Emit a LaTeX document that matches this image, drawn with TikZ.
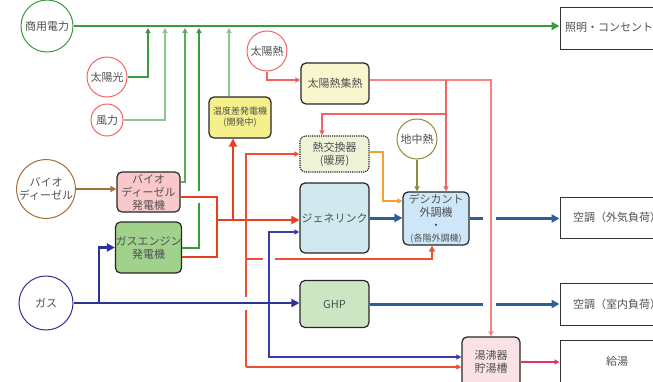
\documentclass[tikz,border=0pt]{standalone}
\usepackage{fontspec}
\setmainfont{Noto Sans CJK JP}
\usetikzlibrary{arrows.meta}
\definecolor{txtgray}{RGB}{80,80,80}
\definecolor{cgrn}{RGB}{60,155,60}
\definecolor{mgrn}{RGB}{90,175,90}
\definecolor{lgrn}{RGB}{140,200,140}
\definecolor{cred}{RGB}{240,100,100}
\definecolor{sal}{RGB}{240,100,100}
\definecolor{pinkl}{RGB}{245,130,130}
\definecolor{ored}{RGB}{232,64,30}
\definecolor{othin}{RGB}{238,80,50}
\definecolor{orng}{RGB}{245,160,50}
\definecolor{olive}{RGB}{140,140,60}
\definecolor{brwn}{RGB}{165,110,55}
\definecolor{gblue}{RGB}{45,50,150}
\definecolor{bthin}{RGB}{60,60,170}
\definecolor{steel}{RGB}{45,95,150}
\definecolor{mag}{RGB}{225,50,100}
\definecolor{fbdg}{RGB}{248,200,202}
\definecolor{fgeg}{RGB}{160,210,140}
\definecolor{ftdg}{RGB}{245,240,140}
\definecolor{fshc}{RGB}{248,246,205}
\definecolor{fhx}{RGB}{238,242,215}
\definecolor{fgl}{RGB}{208,232,238}
\definecolor{fdes}{RGB}{205,230,248}
\definecolor{fghp}{RGB}{204,230,196}
\definecolor{ftank}{RGB}{250,225,230}
\tikzset{
  >={Triangle[length=5pt,width=5pt]},
  arS/.style={->},
  arL/.style={-{Triangle[length=8pt,width=8pt]}},
  arM/.style={-{Triangle[length=6pt,width=6pt]}},
  txt/.style={text=txtgray, font=\fontsize{11}{13}\selectfont, align=center, inner sep=0pt},
  smalltxt/.style={font=\fontsize{9}{11}\selectfont},
  circ/.style={circle, draw=#1, line width=1pt, fill=white, txt},
  box/.style={rectangle, rounded corners=5pt, draw=black!85, line width=1.2pt, fill=#1, txt},
  outbox/.style={rectangle, draw=black!80, line width=1pt, minimum width=114pt, minimum height=42pt, txt},
  gmain/.style={draw=cgrn, line width=2.6pt},
  g2/.style={draw=cgrn, line width=2pt},
  gm/.style={draw=mgrn, line width=1.8pt},
  gl/.style={draw=lgrn, line width=1.2pt},
  rthick/.style={draw=ored, line width=2.8pt},
  rthin/.style={draw=othin, line width=1.5pt},
  sall/.style={draw=sal, line width=1.3pt},
  pinkline/.style={draw=pinkl, line width=1.4pt},
  orl/.style={draw=orng, line width=1.2pt},
  olv/.style={draw=olive, line width=1.2pt},
  brl/.style={draw=brwn, line width=1.8pt},
  gasl/.style={draw=gblue, line width=2.8pt},
  bthl/.style={draw=bthin, line width=1.5pt},
  stl/.style={draw=steel, line width=3pt},
  magl/.style={draw=mag, line width=1.3pt},
  gapw/.style={fill=white, draw=none}
}
\begin{document}
\begin{tikzpicture}[x=1pt,y=-1pt]
\useasboundingbox (0,0) rectangle (653,381);

% circles
\node[circ=cgrn, minimum size=52pt] (grid) at (47,26) {商用電力};
\node[circ=cred, minimum size=40pt] (pv) at (107,77) {太陽光};
\node[circ=cred, minimum size=32pt] (wind) at (107,120) {風力};
\node[circ=cred, minimum size=40pt] (sh) at (267,51) {太陽熱};
\node[circ=olive, minimum size=40pt] (geo) at (417,139) {地中熱};
\node[circ=brwn, minimum size=54pt] (bio) at (46,189) {バイオ\\ディーゼル};
\node[circ=gblue, minimum size=54pt] (gas) at (46,303) {ガス};

% boxes
\node[box=fbdg, minimum width=63pt, minimum height=40pt] (bdg) at (148.5,192) {バイオ\\ディーゼル\\発電機};
\node[box=fgeg, minimum width=63pt, minimum height=51pt] (geg) at (148.5,247.5) {ガスエンジン\\発電機};
\node[box=ftdg, smalltxt, minimum width=62pt, minimum height=41pt] (tdg) at (240,117.5) {温度差発電機\\(開発中)};
\node[box=fshc, minimum width=68pt, minimum height=41pt] (shc) at (335,83.5) {太陽熱集熱};
\node[box=fhx, densely dotted, minimum width=69pt, minimum height=36pt] (hx) at (334.5,154) {熱交換器\\(暖房)};
\node[box=fgl, minimum width=69pt, minimum height=70pt] (genl) at (334.5,218) {ジェネリンク};
\node[box=fdes, minimum width=66pt, minimum height=53pt] (des) at (436,218.5) {デシカント\\外調機\\・\\[-1pt]{\fontsize{9}{10}\selectfont (各階外調機)}};
\node[box=fghp, minimum width=69pt, minimum height=47pt] (ghp) at (334.5,304) {GHP};
\node[box=ftank, minimum width=58pt, minimum height=50pt] (tank) at (491,362) {湯沸器\\貯湯槽};
\node[outbox, align=left, text width=104pt] (light) at (617,28) {照明・コンセント};
\node[outbox, minimum height=41pt] (ac1) at (617,217.5) {空調（外気負荷）};
\node[outbox] (ac2) at (617,304) {空調（室内負荷）};
\node[outbox] (hotw) at (617,361) {給湯};

% bus coordinates
\coordinate (bpv) at (148,28);
\coordinate (bwind) at (165,28);
\coordinate (bbdg) at (185,28);
\coordinate (bgeg) at (199,28);
\coordinate (btdg) at (229,28);

% green electricity
\draw[gmain, arL] (grid.east) -- (grid.east -| light.west);
\draw[g2, arS] (pv.east) -| (bpv);
\draw[gl, arS] (wind.east) -| (bwind);
\draw[gm, arS] ([yshift=10pt]bdg.east) -| (bbdg);
\draw[g2, arS] (geg.east) -| (bgeg);
\draw[gl, arS] ([xshift=-11pt]tdg.north) -- (btdg);

\fill[gapw] (195,191) rectangle (203,203);

% thick red (generator heat)
\coordinate (rj) at (217,220);
\coordinate (rj2) at (233,220);
\draw[rthick] ([yshift=-5pt]bdg.east) -| (rj) |- ([yshift=-9.5pt]geg.east);
\draw[rthick, arL] (rj) -- (rj -| genl.west);
\draw[rthick, arL] (rj2) -- (rj2 |- tdg.south);

% thin red
\coordinate (rv) at (246,367);
\coordinate (rh) at (246,259);
\draw[rthin, arS] (rv) |- (hx.west);
\draw[rthin, arS] (rv) -- (rv -| tank.west);
\draw[rthin, arM] (rh) -| ([xshift=-4pt]des.south);

\fill[gapw] (243,297) rectangle (249,310);
\fill[gapw] (263,256) rectangle (275,262);

% thin blue
\coordinate (bv) at (269,357);
\draw[bthl, <->] ([yshift=-14pt]genl.west) -| (bv) -- (bv -| tank.west);

% gas
\coordinate (g1) at (99,303);
\draw[gasl, arL] (gas.east) -- (gas.east -| ghp.west);
\draw[gasl, arL] (g1) |- (geg.west);

% steel blue (air conditioning)
\draw[stl, arL] (genl.east) -- (genl.east -| des.west);
\draw[stl, arL] (des.east) -- (des.east -| ac1.west);
\draw[stl, arL] (ghp.east) -- (ghp.east -| ac2.west);
\fill[gapw] (483,213) rectangle (496,224);
\fill[gapw] (483,298) rectangle (496,310);

% solar heat
\coordinate (s1) at (446,80);
\coordinate (s2) at (446,114);
\draw[sall, arS] (sh.south) |- ([yshift=3.5pt]shc.west);
\draw[pinkline, arS] ([yshift=3.5pt]shc.east) -| (tank.north);
\draw[sall, arS] (s1) -- ([xshift=10pt]des.north);
\draw[sall, arS] (s2) -| ([xshift=-12.5pt]hx.north);

% others
\coordinate (o1) at (383,201);
\draw[orl, arS] ([yshift=2pt]hx.east) -| (o1) -- (o1 -| des.west);
\draw[olv, arS] (geo.south) -- (geo.south |- des.north);
\draw[brl, arM] (bio.east) -- (bio.east -| bdg.west);
\draw[magl, arS] (tank.east) -- (tank.east -| hotw.west);
\end{tikzpicture}
\end{document}
